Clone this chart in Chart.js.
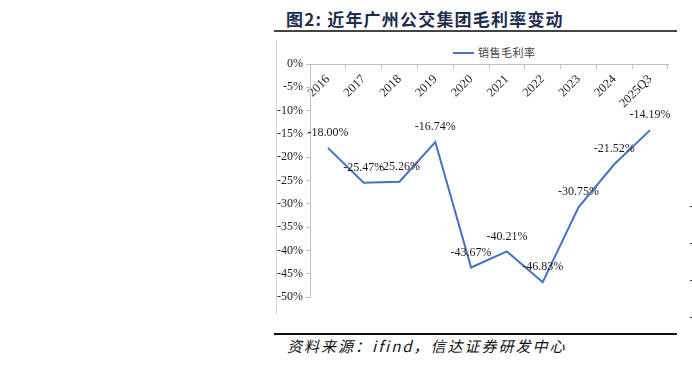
<!DOCTYPE html>
<html>
<head>
<meta charset="utf-8">
<script src="https://cdn.jsdelivr.net/npm/chart.js"></script>
<style>
  html, body { margin:0; padding:0; background:#fff; width:692px; height:365px; overflow:hidden; }
  .abs { position:absolute; }
  #title { left:286px; top:6px; font-family:"Noto Sans CJK SC", sans-serif; font-weight:bold; font-size:17px; color:#1c2d4f; letter-spacing:1.2px; white-space:nowrap; }
  #source { left:287px; top:335px; font-family:"Noto Sans CJK SC", sans-serif; font-style:italic; font-size:15px; color:#111; letter-spacing:2px; white-space:nowrap; }
  #legtext { left:478px; top:44px; font-family:"Noto Sans CJK SC", sans-serif; font-size:11px; color:#444; white-space:nowrap; letter-spacing:0.5px; }
</style>
</head>
<body>
<div class="abs" id="title">图2: 近年广州公交集团毛利率变动</div>
<div class="abs" style="left:274px; top:30px; width:403px; height:2px; background:#444;"></div>
<div class="abs" style="left:276px; top:40px; width:1px; height:274px; background:#d4d4d4;"></div>
<div class="abs" style="left:453px; top:52px; width:21px; height:2px; background:#4472C4;"></div>
<div class="abs" id="legtext">销售毛利率</div>
<canvas id="c" class="abs" width="416" height="280" style="left:276px; top:40px;"></canvas>
<div class="abs" style="left:274px; top:333px; width:403px; height:2px; background:#111;"></div>
<div class="abs" id="source">资料来源：ifind，信达证券研发中心</div>
<div class="abs" style="left:690px; top:206px; width:2px; height:1px; background:#333;"></div>
<div class="abs" style="left:690px; top:243px; width:2px; height:1px; background:#333;"></div>
<div class="abs" style="left:690px; top:280px; width:2px; height:1px; background:#333;"></div>
<div class="abs" style="left:690px; top:317px; width:2px; height:1px; background:#333;"></div>
<script>
const categories = ["2016","2017","2018","2019","2020","2021","2022","2023","2024","2025Q3"];
const grossMargin = [-18.00, -25.47, -25.26, -16.74, -43.67, -40.21, -46.83, -30.75, -21.52, -14.19];
const seriesName = "销售毛利率";
const yMin = -50, yMax = 0, yStep = 5;

const serif = "'Liberation Serif', 'Times New Roman', serif";

const dataLabels = {
  id: 'dataLabels',
  afterDatasetsDraw(chart) {
    const ctx = chart.ctx;
    const meta = chart.getDatasetMeta(0);
    ctx.save();
    ctx.font = "12px " + serif;
    ctx.fillStyle = "#1a1a1a";
    ctx.textAlign = "center";
    ctx.textBaseline = "middle";
    meta.data.forEach((pt, i) => {
      const v = chart.data.datasets[0].data[i];
      ctx.fillText(v.toFixed(2) + "%", pt.x, pt.y - 15);
    });
    ctx.restore();
  }
};

new Chart(document.getElementById('c'), {
  type: 'line',
  data: {
    labels: categories,
    datasets: [{
      label: seriesName,
      data: grossMargin,
      borderColor: '#4472C4',
      backgroundColor: '#4472C4',
      borderWidth: 2,
      pointRadius: 0,
      tension: 0,
      fill: false
    }]
  },
  options: {
    responsive: false,
    animation: false,
    layout: { padding: { left: 0, right: 24, top: 24, bottom: 23 } },
    plugins: { legend: { display: false }, tooltip: { enabled: false }, title: { display: false } },
    scales: {
      x: {
        type: 'category',
        position: { y: 0 },
        offset: true,
        grid: { display: true, offset: true, drawOnChartArea: false, drawTicks: true, tickLength: 4, color: '#bfbfbf' },
        border: { display: true, color: '#bfbfbf', width: 1 },
        ticks: { minRotation: 45, maxRotation: 45, autoSkip: false, color: '#1a1a1a', font: { family: serif, size: 12.5 }, padding: 4 }
      },
      y: {
        min: yMin, max: yMax,
        afterFit(scale) { scale.width = 34; },
        grid: { display: true, drawOnChartArea: false, drawTicks: true, tickLength: 4, color: '#bfbfbf' },
        border: { display: true, color: '#bfbfbf', width: 1 },
        ticks: { stepSize: yStep, color: '#1a1a1a', font: { family: serif, size: 12 }, padding: 3,
                 callback: v => v + '%' }
      }
    }
  },
  plugins: [dataLabels]
});
</script>
</body>
</html>
